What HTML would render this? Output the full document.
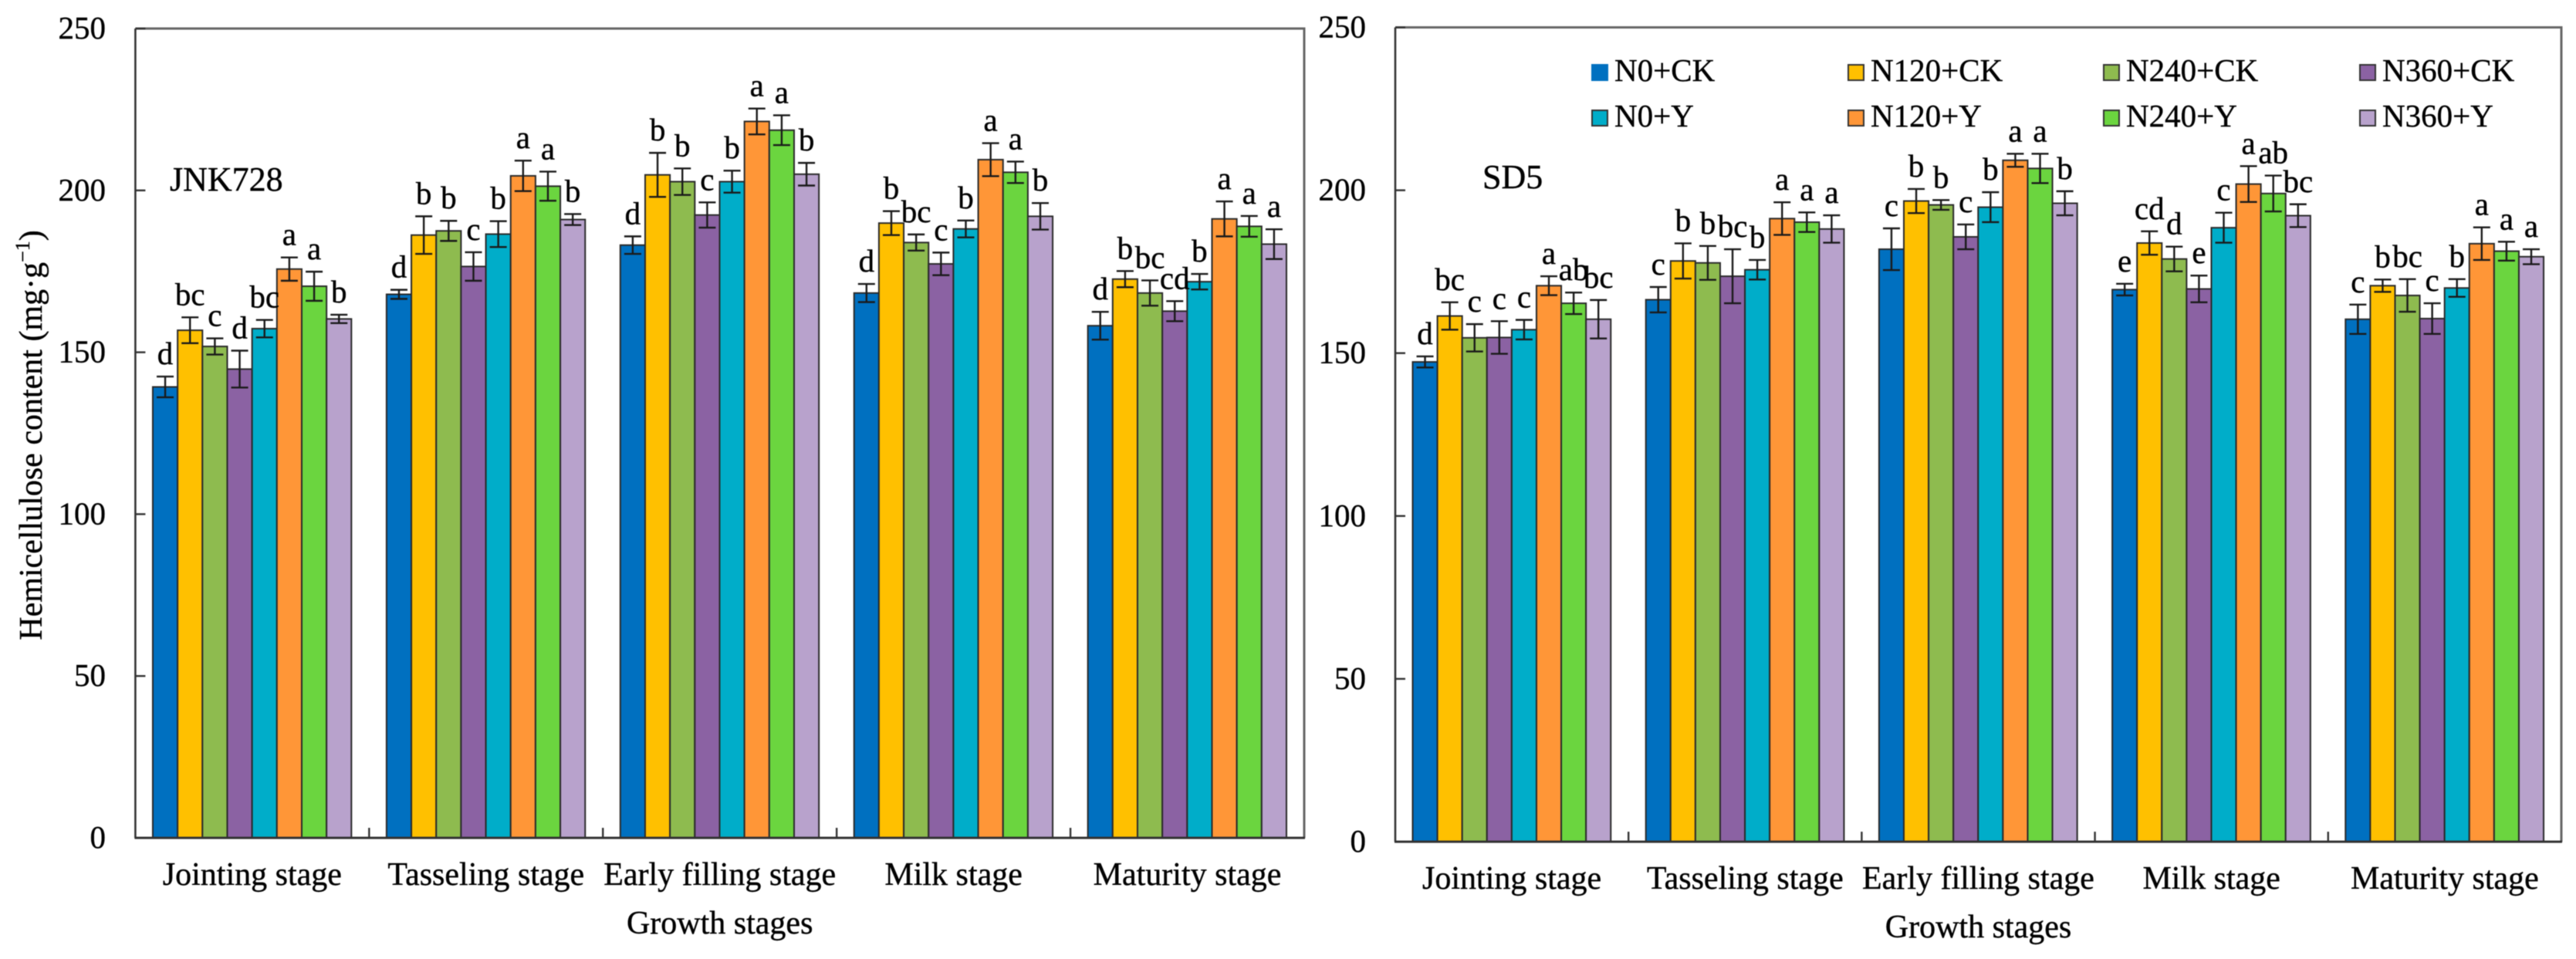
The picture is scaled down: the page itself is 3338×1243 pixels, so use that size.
<!DOCTYPE html>
<html lang="en">
<head>
<meta charset="utf-8">
<title>Hemicellulose content by growth stage</title>
<style>
html,body{margin:0;padding:0;background:#fff;}
#figure{display:block;width:3338px;height:1243px;filter:blur(0.6px);}
text{font-family:"Liberation Serif",serif;fill:#000;stroke:#000;stroke-width:0.4px;}
</style>
</head>
<body>
<svg id="figure" xmlns="http://www.w3.org/2000/svg" width="3338" height="1243" viewBox="0 0 3338 1243"></svg>
<script>
const categories = ['Jointing stage','Tasseling stage','Early filling stage','Milk stage','Maturity stage'];
const seriesNames = ['N0+CK','N120+CK','N240+CK','N360+CK','N0+Y','N120+Y','N240+Y','N360+Y'];
const yTicks = [0,50,100,150,200,250];

const jnkMeans = [
  [139.3,156.8,151.8,144.8,157.3,175.7,170.4,160.3],
  [167.9,186.2,187.5,176.5,186.5,204.5,201.3,191.0],
  [183.1,204.8,202.7,192.4,202.7,221.3,218.6,205.0],
  [168.3,189.9,183.9,177.3,188.1,209.5,205.6,192.0],
  [158.2,172.6,168.3,162.7,171.8,191.2,188.9,183.4]
];
const jnkErrors = [
  [3.2,4.0,2.5,5.7,2.7,3.6,4.5,1.3],
  [1.4,5.8,3.1,4.4,4.0,4.7,4.5,1.7],
  [2.7,6.8,4.1,3.9,3.4,4.0,4.6,3.5],
  [2.8,3.7,2.5,3.5,2.6,5.1,3.3,4.1],
  [4.3,2.5,3.9,3.1,2.4,5.4,3.2,4.6]
];
const jnkLetters = [
  ['d','bc','c','d','bc','a','a','b'],
  ['d','b','b','c','b','a','a','b'],
  ['d','b','b','c','b','a','a','b'],
  ['d','b','bc','c','b','a','a','b'],
  ['d','b','bc','cd','b','a','a','a']
];

const sdMeans = [
  [147.3,161.4,154.7,154.8,157.2,170.7,165.3,160.4],
  [166.4,178.3,177.7,173.6,175.6,191.3,190.2,188.1],
  [181.9,196.7,195.5,185.7,194.8,209.2,206.7,196.0],
  [169.5,183.8,178.9,169.7,188.5,201.9,199.0,192.2],
  [160.4,170.7,167.7,160.6,170.0,183.6,181.3,179.6]
];
const sdErrors = [
  [1.7,4.2,4.2,5.0,3.0,2.9,3.3,5.9],
  [3.9,5.4,5.2,8.3,3.0,5.0,3.0,4.2],
  [6.4,3.7,1.5,3.8,4.6,2.0,4.5,3.7],
  [1.8,3.6,3.8,4.1,4.6,5.5,5.5,3.5],
  [4.5,1.9,5.0,4.7,2.7,5.0,2.9,2.3]
];
const sdLetters = [
  ['d','bc','c','c','c','a','ab','bc'],
  ['c','b','b','bc','b','a','a','a'],
  ['c','b','b','c','b','a','a','b'],
  ['e','cd','d','e','c','a','ab','bc'],
  ['c','b','bc','c','b','a','a','a']
];

const seriesColors = ['#0070C0','#FFC000','#8EBB4F','#8B62A3','#00ADC9','#FF9637','#6BD53F','#B8A2CC'];

const svg = document.getElementById('figure');
const NS = 'http://www.w3.org/2000/svg';

function mk(parent, tag, attrs, content) {
  const el = document.createElementNS(NS, tag);
  for (const k in attrs) el.setAttribute(k, attrs[k]);
  if (content !== undefined) el.textContent = content;
  parent.appendChild(el);
  return el;
}

function drawPanel(cfg) {
  const yScale = v => cfg.y0 - v * (cfg.y0 - cfg.yTop) / 250;
  const band = (cfg.x1 - cfg.x0) / categories.length;
  const barW = band * 0.1062;
  const inset = band * 0.0745;
  const xBar = (c, s) => cfg.x0 + c * band + inset + s * barW;
  const xCenter = c => cfg.x0 + (c + 0.5) * band;

  const panel = mk(svg, 'g', {});
  
  

  cfg.means.forEach((groupVals, c) => {
    groupVals.forEach((val, s) => {
      const bar = mk(panel, 'rect', {
        x: xBar(c, s), y: yScale(val), width: barW, height: cfg.y0 - yScale(val),
        fill: seriesColors[s], stroke: '#2a2a2a', 'stroke-width': 2
      });
      
      
    });
  });

  cfg.means.forEach((groupVals, c) => {
    groupVals.forEach((val, s) => {
      const cx = xBar(c, s) + barW / 2;
      const err = cfg.errors[c][s];
      const up = yScale(val + err), down = yScale(val - err);
      const eb = mk(panel, 'path', {
        d: 'M' + (cx - 11) + ' ' + up + 'H' + (cx + 11) + 'M' + cx + ' ' + up + 'V' + down + 'M' + (cx - 11) + ' ' + down + 'H' + (cx + 11),
        fill: 'none', stroke: '#1a1a1a', 'stroke-width': 2.4
      });
      
      
      const lt = mk(panel, 'text', {
        x: cx, y: up - 16, 'text-anchor': 'middle', 'font-size': 41
      }, cfg.letters[c][s]);
      
      
    });
  });

  const frame = mk(panel, 'path', {
    d: 'M' + cfg.x0 + ' ' + cfg.yTop + 'H' + cfg.x1 + 'V' + cfg.y0,
    fill: 'none', stroke: '#666', 'stroke-width': 3
  });
  
  

  const yAxis = mk(panel, 'line', {
    x1: cfg.x0, y1: cfg.yTop, x2: cfg.x0, y2: cfg.y0, stroke: '#333', 'stroke-width': 2.6
  });
  
  

  const xAxis = mk(panel, 'line', {
    x1: cfg.x0 - 1, y1: cfg.y0, x2: cfg.x1 + 1, y2: cfg.y0, stroke: '#333', 'stroke-width': 3
  });
  
  

  yTicks.forEach(t => {
    const tick = mk(panel, 'line', {
      x1: cfg.x0, y1: yScale(t), x2: cfg.x0 + 13, y2: yScale(t), stroke: '#333', 'stroke-width': 2.4
    });
    
    
    const tl = mk(panel, 'text', {
      x: cfg.tickRight, y: yScale(t) + 13, 'text-anchor': 'end', 'font-size': 41
    }, String(t));
    
    
  });

  categories.forEach((name, c) => {
    if (c > 0) {
      const tick = mk(panel, 'line', {
        x1: cfg.x0 + c * band, y1: cfg.y0, x2: cfg.x0 + c * band, y2: cfg.y0 - 13, stroke: '#333', 'stroke-width': 2.4
      });
      
      
    }
    const cl = mk(panel, 'text', {
      x: xCenter(c), y: cfg.y0 + 61, 'text-anchor': 'middle', 'font-size': 42
    }, name);
    
    
  });

  const xTitle = mk(panel, 'text', {
    x: (cfg.x0 + cfg.x1) / 2, y: cfg.y0 + 124, 'text-anchor': 'middle', 'font-size': 42
  }, 'Growth stages');
  
  

  const tag = mk(panel, 'text', {
    x: cfg.tagX, y: cfg.tagY, 'font-size': 44
  }, cfg.title);
  
  
}

drawPanel({key:'jnk728', title:'JNK728', means:jnkMeans, errors:jnkErrors, letters:jnkLetters,
  x0:175.4, x1:1690, yTop:37, y0:1086, tickRight:137, tagX:220, tagY:247});
drawPanel({key:'sd5', title:'SD5', means:sdMeans, errors:sdErrors, letters:sdLetters,
  x0:1808, x1:3319, yTop:35.5, y0:1091, tickRight:1770, tagX:1921, tagY:244});

const yTitle = mk(svg, 'text', {
  x: 54, y: 564, 'text-anchor': 'middle', 'font-size': 42, transform: 'rotate(-90 54 564)'
});


mk(yTitle, 'tspan', {}, 'Hemicellulose content (mg·g');
mk(yTitle, 'tspan', {'font-size': 26, dy: -16}, '−1');
mk(yTitle, 'tspan', {dy: 16}, ')');

const legend = mk(svg, 'g', {});


const legendCols = [2062, 2394, 2725, 3057];
const legendRows = [83, 142];
seriesNames.forEach((name, i) => {
  const col = i % 4, row = Math.floor(i / 4);
  const entry = mk(legend, 'g', {});
  
  
  const sw = mk(entry, 'rect', {
    x: legendCols[col] + 1, y: legendRows[row] + 1, width: 20, height: 20,
    fill: seriesColors[i], stroke: i === 0 ? '#0070C0' : '#333', 'stroke-width': 2
  });
  
  
  const lab = mk(entry, 'text', {
    x: legendCols[col] + 30, y: legendRows[row] + 22, 'font-size': 41
  }, name);
  
  
});
</script>
</body>
</html>
